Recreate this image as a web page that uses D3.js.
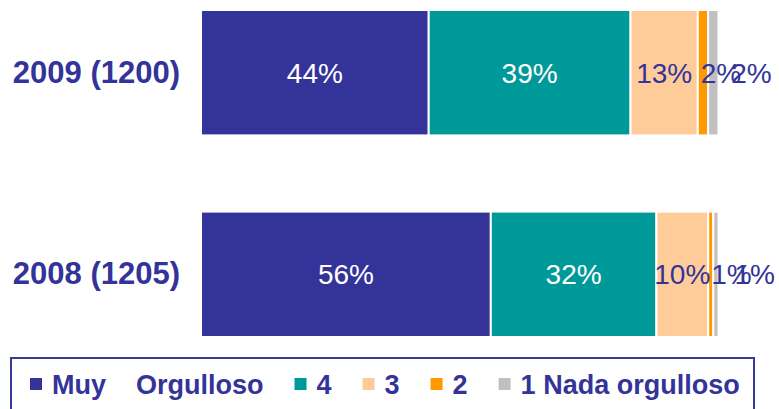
<!DOCTYPE html>
<html>
<head>
<meta charset="utf-8">
<script src="https://cdn.jsdelivr.net/npm/d3@7"></script>
<style>
  body { margin: 0; background: #fff; }
  svg { display: block; font-family: "Liberation Sans", Arial, sans-serif; }
</style>
</head>
<body>
<svg id="drawing_region" width="779" height="409"></svg>
<script>
// datos
const years = ["2009 (1200)", "2008 (1205)"];
const categories = ["Muy    Orgulloso", "4", "3", "2", "1 Nada orgulloso"];
const values2009 = [44, 39, 13, 2, 2];
const values2008 = [56, 32, 10, 1, 1];
const colors = ["#333399", "#009999", "#FFCC99", "#FF9900", "#C0C0C0"];
const labelColors = ["#fff", "#fff", "#333399", "#333399", "#333399"];

const rows = [values2009, values2008];
const svg = d3.select("#drawing_region");

const x = d3.scaleLinear().domain([0, 100]).range([201, 718.5]);
const y = d3.scaleBand().domain(years).range([10, 337]).paddingInner(0.378).paddingOuter(0);

// eje de años
svg.append("g")
    .attr("transform", "translate(201,0)")
    .call(d3.axisLeft(y).tickSize(0).tickPadding(21))
    .call(g => g.select(".domain").remove())
    .selectAll("text")
    .attr("fill", "#333399")
    .style("font-size", "31px")
    .style("font-weight", "bold")
    .style("font-family", "'Liberation Sans', Arial, sans-serif");

rows.forEach((vals, r) => {
    let cum = 0;
    const segs = vals.map((v, i) => {
        const s = { i: i, v: v, x0: cum, x1: cum + v };
        cum += v;
        return s;
    });
    const g = svg.append("g");
    g.selectAll("rect")
        .data(segs)
        .join("rect")
        .attr("x", d => x(d.x0))
        .attr("y", y(years[r]))
        .attr("width", d => x(d.x1) - x(d.x0))
        .attr("height", y.bandwidth())
        .attr("fill", d => colors[d.i])
        .attr("stroke", "#fff")
        .attr("stroke-width", 2);

    // etiquetas (las de segmentos pequeños se corren a la derecha)
    const cy = y(years[r]) + y.bandwidth() / 2;
    let prevRight = 0;
    segs.forEach(d => {
        const t = g.append("text")
            .attr("y", cy + 10)
            .attr("fill", labelColors[d.i])
            .style("font-size", "28px")
            .text(d.v + "%");
        const w = t.node().getComputedTextLength();
        const segW = x(d.x1) - x(d.x0);
        let left;
        if (segW >= w * 0.8) {
            left = (x(d.x0) + x(d.x1)) / 2 - w / 2;
        } else {
            left = Math.max(x(d.x0) + 3, prevRight - 10);
            left = Math.min(left, 775 - w);
        }
        t.attr("x", left);
        prevRight = left + w;
    });
});

// leyenda
const leg = svg.append("g");
leg.append("rect")
    .attr("x", 11).attr("y", 358)
    .attr("width", 743).attr("height", 70)
    .attr("fill", "none")
    .attr("stroke", "#3a3a9a")
    .attr("stroke-width", 2);

let lx = 30;
categories.forEach((c, i) => {
    leg.append("rect")
        .attr("x", lx).attr("y", 378)
        .attr("width", 12).attr("height", 12)
        .attr("fill", colors[i]);
    const t = leg.append("text")
        .attr("x", lx + 22).attr("y", 394)
        .attr("fill", "#333399")
        .style("font-size", "27px")
        .style("font-weight", "bold")
        .style("white-space", "pre")
        .attr("xml:space", "preserve")
        .text(c);
    lx = lx + 22 + t.node().getComputedTextLength() + 31;
});
</script>
</body>
</html>
